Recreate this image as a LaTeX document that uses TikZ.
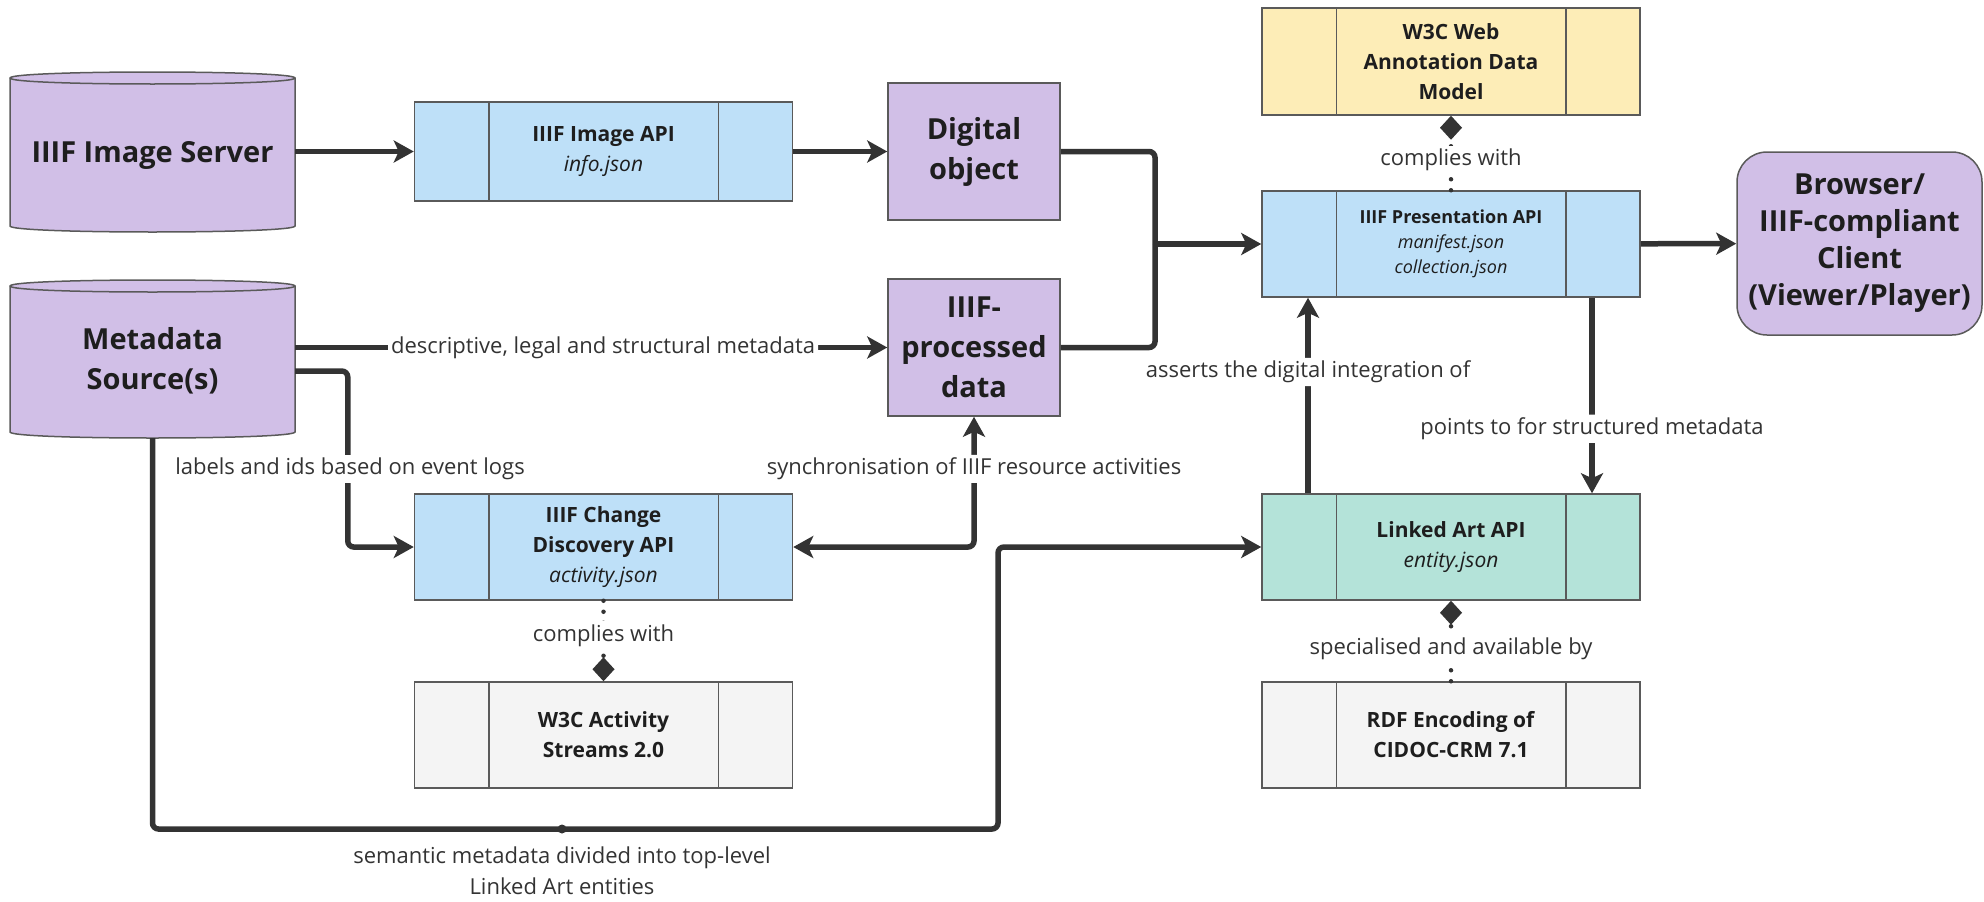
\documentclass[tikz,border=0pt]{standalone}
\usepackage{fontspec}
\setmainfont{Open Sans}
\usetikzlibrary{arrows.meta,calc}
\definecolor{purp}{HTML}{D1BFE7}
\definecolor{lblue}{HTML}{BEE0F8}
\definecolor{lyell}{HTML}{FDEDB7}
\definecolor{lteal}{HTML}{B4E3D9}
\definecolor{lgray}{HTML}{F4F4F4}
\definecolor{bord}{HTML}{5A5A5A}
\definecolor{edgec}{HTML}{333333}
\definecolor{txt}{HTML}{1E1E1E}
\definecolor{lbltxt}{HTML}{333333}
\tikzset{
  bigtext/.style={align=center, text=txt, inner sep=0pt, font=\bfseries\fontsize{29pt}{40pt}\selectfont},
  bigbox/.style={bigtext, draw=bord, line width=1.5pt, fill=purp, minimum width=172pt, minimum height=137pt},
  apibox/.style={draw=bord, line width=1.5pt, minimum width=378pt, minimum height=106pt, align=center, text=txt, inner sep=0pt, font=\fontsize{21pt}{30pt}\selectfont},
  divline/.style={draw=bord, line width=1.5pt},
  conn/.style={draw=edgec, line width=5.5pt, rounded corners=6pt},
  tipA/.tip={Stealth[length=20pt,width=22pt,inset=5pt]},
  arr/.style={conn, -tipA},
  lbl/.style={fill=white, text=lbltxt, font=\fontsize{22pt}{31pt}\selectfont, inner sep=3pt, align=center},
  dotline/.style={draw=edgec, line width=4.5pt, line cap=round, dash pattern=on 0pt off 11pt},
  diamtip/.tip={Diamond[length=24pt,width=22pt,line width=0pt]},
}
\begin{document}
\begin{tikzpicture}[x=1pt,y=-1pt]
\useasboundingbox (0,0) rectangle (1984,902);

% cylinders
\filldraw[fill=purp, draw=bord, line width=1.5pt] (10,78) -- (10,226) .. controls (10,234) and (295,234) .. (295,226) -- (295,78) .. controls (295,70) and (10,70) .. (10,78) -- cycle;
\draw[draw=bord, line width=1.5pt] (10,78) .. controls (10,86) and (295,86) .. (295,78);
\filldraw[fill=purp, draw=bord, line width=1.5pt] (10,286) -- (10,432) .. controls (10,440) and (295,440) .. (295,432) -- (295,286) .. controls (295,278) and (10,278) .. (10,286) -- cycle;
\draw[draw=bord, line width=1.5pt] (10,286) .. controls (10,294) and (295,294) .. (295,286);

\node[bigtext, minimum width=285pt, minimum height=154pt] (imgsrv) at (152.5,155) {IIIF Image Server};
\node[bigtext, minimum width=285pt, minimum height=154pt] (meta) at (152.5,361) {Metadata\\Source(s)};

% purple boxes
\node[bigbox] (digobj) at (974,151.5) {Digital\\object};
\node[bigbox] (proc) at (974,347.5) {IIIF-\\processed\\data};
\node[bigtext, draw=bord, line width=1.5pt, fill=purp, rounded corners=30pt, minimum width=245pt, minimum height=183pt, font=\bfseries\fontsize{29pt}{37pt}\selectfont] (browser) at (1859.5,243.5) {Browser/\\IIIF-compliant\\Client\\(Viewer/Player)};

% API boxes
\node[apibox, fill=lblue, minimum height=99pt] (imgapi) at (603.5,151.5) {\textbf{IIIF Image API}\\\textit{info.json}};
\node[apibox, fill=lblue, font=\fontsize{18pt}{25pt}\selectfont] (pres) at (1451,244) {\textbf{IIIF Presentation API}\\\textit{manifest.json}\\\textit{collection.json}};
\node[apibox, fill=lyell, minimum height=107pt] (web) at (1451,61.5) {\textbf{W3C Web}\\\textbf{Annotation Data}\\\textbf{Model}};
\node[apibox, fill=lblue] (change) at (603.5,547) {\textbf{IIIF Change}\\\textbf{Discovery API}\\\textit{activity.json}};
\node[apibox, fill=lgray] (act) at (603.5,735) {\textbf{W3C Activity}\\\textbf{Streams 2.0}};
\node[apibox, fill=lteal] (link) at (1451,547) {\textbf{Linked Art API}\\\textit{entity.json}};
\node[apibox, fill=lgray] (rdf) at (1451,735) {\textbf{RDF Encoding of}\\\textbf{CIDOC-CRM 7.1}};

\foreach \n in {imgapi,pres,web,change,act,link,rdf}{
  \draw[divline] ([xshift=75pt]\n.north west) -- ([xshift=75pt]\n.south west);
  \draw[divline] ([xshift=-75pt]\n.north east) -- ([xshift=-75pt]\n.south east);
}

% connectors
\draw[arr] (imgsrv.east |- imgapi.west) -- (imgapi.west);
\draw[arr] (imgapi) -- (digobj);
\coordinate (jn) at (1155,244);
\draw[conn] (digobj.east) -| (jn);
\draw[conn] (proc.east) -| (jn);
\draw[arr] (jn) -- (pres.west);
\draw[arr] (pres) -- (browser);

\draw[arr] (meta.east |- proc.west) -- (proc.west) node[lbl, pos=0.52] {descriptive, legal and structural metadata};
\draw[arr] ([yshift=-10pt]meta.east) -| ([xshift=-66pt]change.west) -- (change.west);
\node[lbl] (lbllab) at (350,469) {labels and ids based on event logs};

\draw[conn, tipA-tipA] (proc.south) |- (change.east) node[lbl, pos=0.2] {synchronisation of IIIF resource activities};

\coordinate (lb) at (998,829);
\draw[arr] (meta.south) |- (lb) |- (link.west);
\fill[edgec] (562,829) circle (4.5pt);
\node[lbl, fill=none] (semlbl) at (562,871) {semantic metadata divided into top-level\\Linked Art entities};

\draw[arr] ([xshift=-143pt]link.north) -- ([xshift=-143pt]pres.south) node[lbl, pos=0.62] {asserts the digital integration of};
\draw[arr] ([xshift=141pt]pres.south) -- ([xshift=141pt]link.north) node[lbl, pos=0.67] {points to for structured metadata};

\draw[dotline, -diamtip] (pres.north) -- (web.south) node[lbl, pos=0.41] {complies with};
\draw[dotline, -diamtip] (change.south) -- (act.north) node[lbl, pos=0.43] {complies with};
\draw[dotline, -diamtip] (rdf.north) -- (link.south) node[lbl, pos=0.40] {specialised and available by};
\end{tikzpicture}
\end{document}
